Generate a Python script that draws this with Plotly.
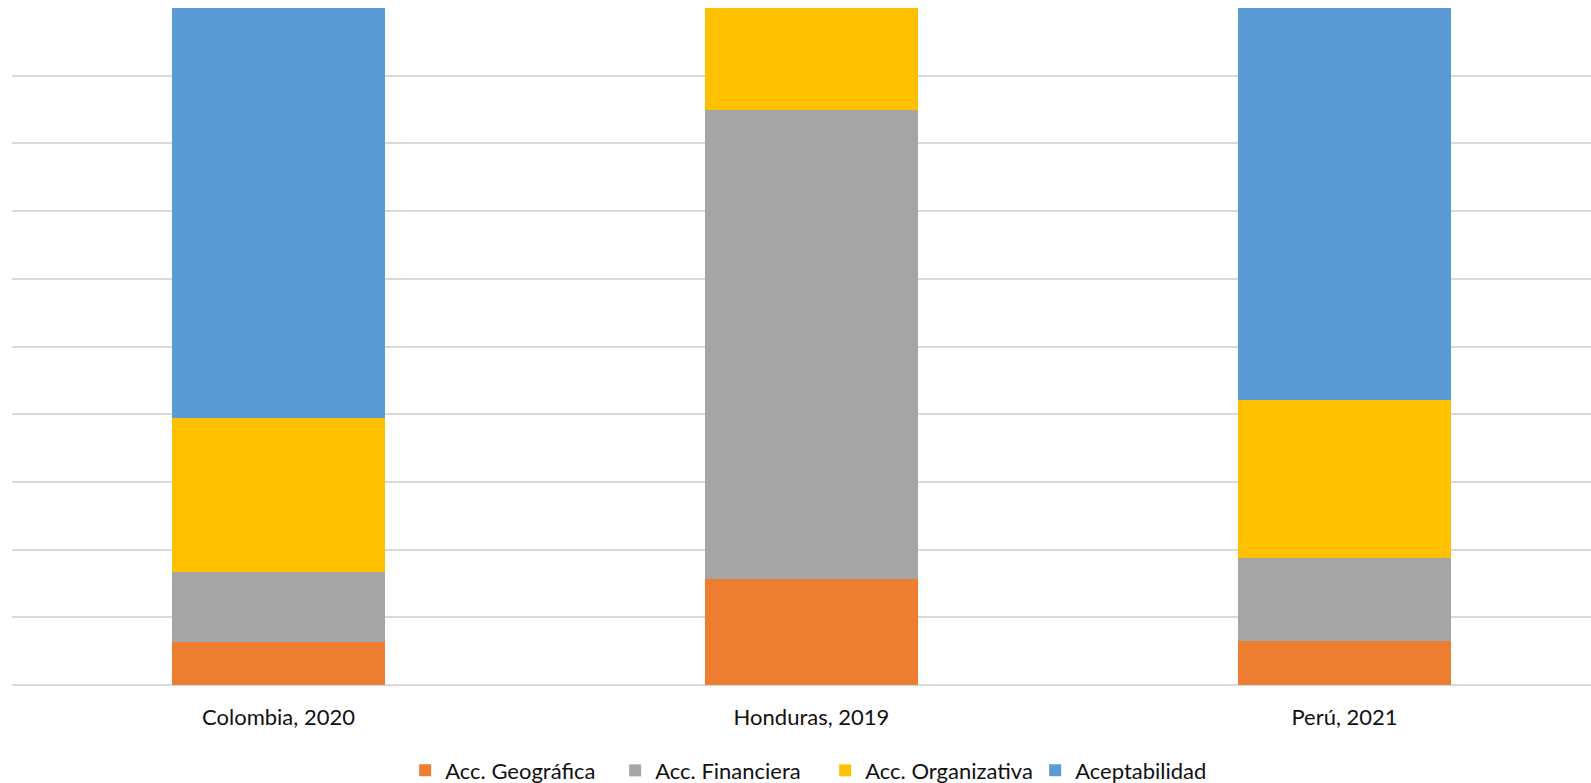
import plotly.graph_objects as go

categories = ["Colombia, 2020", "Honduras, 2019", "Perú, 2021"]
geografica = [6.4, 15.7, 6.55]
financiera = [10.35, 69.25, 12.25]
organizativa = [22.75, 15.05, 23.3]
aceptabilidad = [60.5, 0.0, 57.9]

series = [
    ("Acc. Geográfica", geografica, "#ED7D31"),
    ("Acc. Financiera", financiera, "#A5A5A5"),
    ("Acc. Organizativa", organizativa, "#FFC000"),
    ("Aceptabilidad", aceptabilidad, "#5B9BD5"),
]

FONT = "Lato"
TXT = "#111111"
fig = go.Figure()
for name, vals, color in series:
    fig.add_trace(go.Bar(
        x=categories, y=vals, name=name,
        marker=dict(color=color, line=dict(width=0)),
        width=0.4,
    ))

fig.update_layout(
    barmode="stack",
    width=1591, height=783,
    margin=dict(l=12, r=0, t=8, b=98, autoexpand=False),
    paper_bgcolor="white", plot_bgcolor="white",
    font=dict(family=FONT, size=22, color=TXT),
    showlegend=True,
    legend=dict(orientation="h", x=0.249, xanchor="left", y=-0.1264, yanchor="middle",
                entrywidth=165, entrywidthmode="pixels",
                font=dict(family=FONT, size=22, color=TXT),
                traceorder="normal"),
    xaxis=dict(range=[-0.5, 2.4625], showgrid=False, showline=False,
               ticks="", ticklabelstandoff=17,
               tickfont=dict(family=FONT, size=22, color=TXT)),
    yaxis=dict(range=[0, 100], dtick=10, showticklabels=False,
               showgrid=True, gridcolor="#d9d9d9", gridwidth=2,
               zeroline=True, zerolinecolor="#d9d9d9", zerolinewidth=2),
)

fig.write_html("out.html")
